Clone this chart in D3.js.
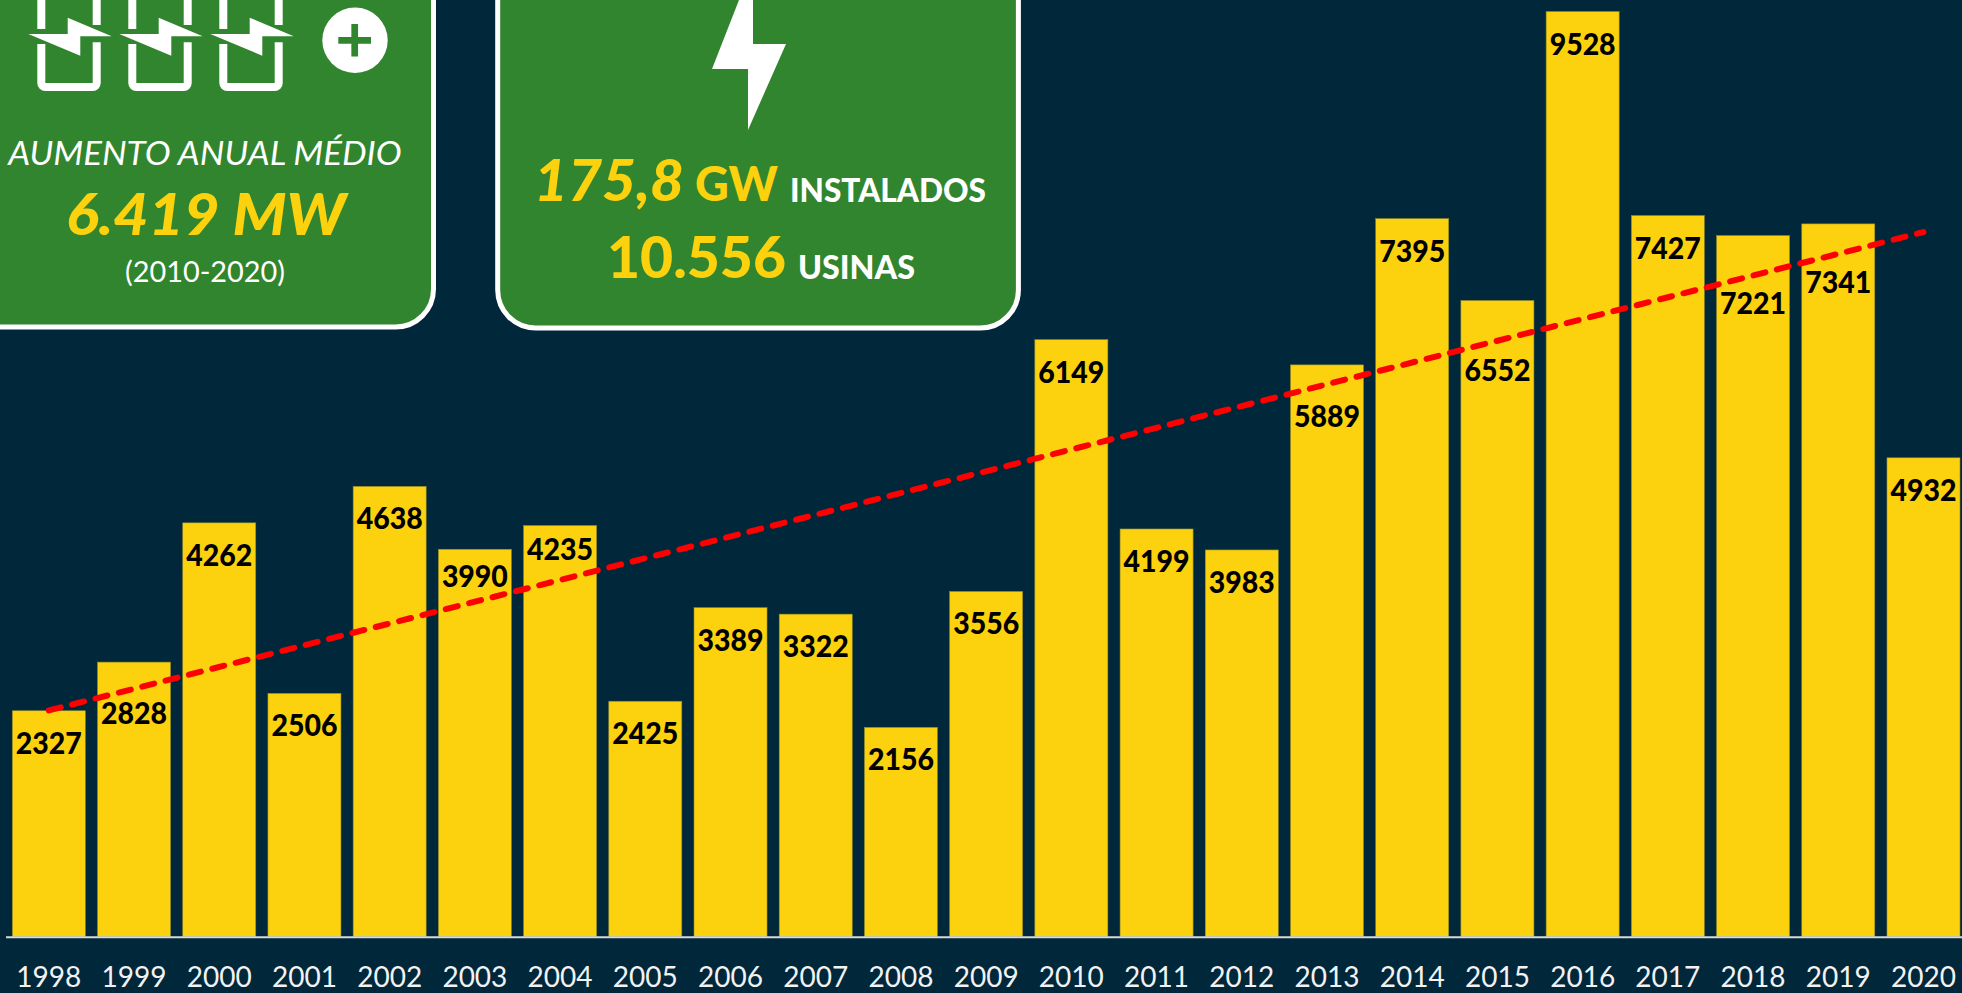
<!DOCTYPE html>
<html><head><meta charset="utf-8">
<script src="https://cdnjs.cloudflare.com/ajax/libs/d3/7.8.5/d3.min.js"></script>
<style>html,body{margin:0;padding:0;background:#01273b;overflow:hidden}svg{display:block}text{font-family:Lato,"Open Sans",sans-serif}</style>
</head><body><svg id="c" width="1962" height="993"></svg>
<script>
const years=["1998","1999","2000","2001","2002","2003","2004","2005","2006","2007","2008","2009","2010","2011","2012","2013","2014","2015","2016","2017","2018","2019","2020"];
const capacityMW=[2327,2828,4262,2506,4638,3990,4235,2425,3389,3322,2156,3556,6149,4199,3983,5889,7395,6552,9528,7427,7221,7341,4932];
const trendYears=["1998","2020"];
const trendValues=[2330,7257];

// label nudges (layout only), px from the default inside-end position
const labelNudge={"1999":19,"2003":-5,"2004":-8,"2013":19,"2015":37,"2018":35,"2019":26};

const W=1962,H=993,base=936.7;
const svg=d3.select("#c");
const x=d3.scaleBand().domain(years).range([12.3,1960]).paddingInner(0.143).paddingOuter(0);
const y=d3.scaleLinear().domain([0,10000]).range([base,base-971]);

const YEL="#fcd20f",GRN="#31852e";
svg.append("rect").attr("width",W).attr("height",H).attr("fill","#01273b");

// panels
svg.append("rect").attr("x",-80).attr("y",-80).attr("width",513.5).attr("height",407).attr("rx",38)
  .attr("fill",GRN).attr("stroke","#fff").attr("stroke-width",5);
svg.append("rect").attr("x",497.7).attr("y",-80).attr("width",520.7).attr("height",408).attr("rx",38)
  .attr("fill",GRN).attr("stroke","#fff").attr("stroke-width",5);

// icons
const iconG=svg.append("g");
[0,91,182].forEach(dx=>{
  const g=iconG.append("g").attr("transform",`translate(${dx},0)`);
  g.append("path").attr("d","M41.3,0V29M96.7,0V25").attr("stroke","#fff").attr("stroke-width",8).attr("fill","none");
  g.append("path").attr("d","M41.3,44V83a4,4 0 0 0 4,4H92.7a4,4 0 0 0 4,-4V42.3").attr("stroke","#fff").attr("stroke-width",8).attr("fill","none");
  g.append("polygon").attr("points","28.3,34 67.7,34 67.7,17.7 111.7,36.3 80.3,36.3 80.3,55.7").attr("fill",GRN).attr("stroke",GRN).attr("stroke-width",3);
  g.append("polygon").attr("points","28.3,34 67.7,34 67.7,17.7 111.7,36.3 80.3,36.3 80.3,55.7").attr("fill","#fff");
});
svg.append("circle").attr("cx",355).attr("cy",40.3).attr("r",32.7).attr("fill","#fff");
svg.append("path").attr("d","M338.3,40.3H371M354.7,24V56.6").attr("stroke",GRN).attr("stroke-width",6.7);
svg.append("polygon").attr("points","739,0 712,69 748,69 748,130 786,44 753,44 753,0").attr("fill","#fff");

function fit(t,xa,xb,yb,size,fill,weight,italic){
  svg.append("text").text(t).attr("x",xa).attr("y",yb).attr("font-size",size).attr("fill",fill)
    .attr("font-weight",weight).attr("font-style",italic?"italic":"normal")
    .attr("textLength",xb-xa).attr("lengthAdjust","spacingAndGlyphs");
}
fit("AUMENTO ANUAL MÉDIO",8.3,401.7,165,32.5,"#fff",400,true);
fit("6.419 MW",66,346,235,57,YEL,900,true);
fit("(2010-2020)",125,285,282,29,"#fff",400,false);
fit("175,8",534,684,201,57,YEL,900,true);
fit("GW",695,778,201,47,YEL,900,false);
fit("INSTALADOS",790,986,202,31.5,"#fff",900,false);
fit("10.556",607,786,278,57,YEL,900,false);
fit("USINAS",798,915,279,31.5,"#fff",900,false);

// bars
svg.append("g").selectAll("rect").data(years).join("rect")
  .attr("x",d=>x(d)).attr("width",x.bandwidth())
  .attr("y",(d,i)=>y(capacityMW[i])).attr("height",(d,i)=>base-y(capacityMW[i]))
  .attr("fill",YEL).attr("stroke","#8f8a2a").attr("stroke-width",0.6);

// axis
const ax=svg.append("g").attr("transform",`translate(0,${base})`).call(d3.axisBottom(x).tickSize(0).tickPadding(0));
ax.select(".domain").remove();
ax.selectAll("text").attr("y",50).attr("dy",0).attr("font-size",29).attr("fill","#f2f2f2")
  .style("font-family","Lato").attr("textLength",65).attr("lengthAdjust","spacingAndGlyphs");
svg.append("line").attr("x1",6).attr("x2",W).attr("y1",base+.6).attr("y2",base+.6).attr("stroke","#d9d9d9").attr("stroke-width",2);

// trend
const line=d3.line().x((d,i)=>x(trendYears[i])+x.bandwidth()/2).y(d=>y(d));
svg.append("path").attr("d",line(trendValues)).attr("fill","none").attr("stroke","#ff0000")
  .attr("stroke-width",6).attr("stroke-linecap","round").attr("stroke-dasharray","12.3 11.8");

// data labels
svg.append("g").selectAll("text").data(years).join("text")
  .text((d,i)=>capacityMW[i])
  .attr("x",d=>x(d)+x.bandwidth()/2)
  .attr("y",(d,i)=>y(capacityMW[i])+33+(labelNudge[d]||0)+10)
  .attr("text-anchor","middle").attr("font-size",31).attr("font-weight",900).attr("fill","#000")
  .attr("textLength",66).attr("lengthAdjust","spacingAndGlyphs");
</script></body></html>
